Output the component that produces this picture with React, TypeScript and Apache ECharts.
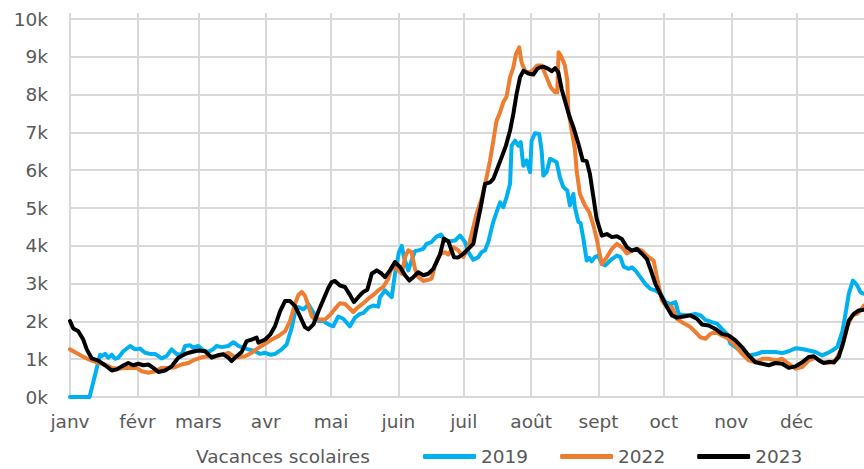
import React, { useEffect, useRef } from "react";
import * as echarts from "echarts";

const monthStarts = [0, 31, 59, 90, 120, 151, 181, 212, 243, 273, 304, 334];
const monthLabels = ["janv", "févr", "mars", "avr", "mai", "juin", "juil", "août", "sept", "oct", "nov", "déc"];

const seriesNames = ["2019", "2022", "2023"];
const seriesColors = ["#00B0F0", "#ED7D31", "#000000"];

// [day of year, value]
const s2019: number[][] = [
  [0, 0], [9, 0], [13.8, 1120], [14.6, 1080], [16.1, 1140], [17.6, 1040], [19.2, 1120], [20.7, 1010], [22.2, 1040],
  [24.5, 1210], [27.6, 1350], [29.9, 1260], [32.2, 1280], [34.5, 1170], [36.8, 1140], [39.1, 1140], [42.1, 1020],
  [44.4, 1080], [46.7, 1260], [49, 1140], [51.3, 1120], [52.9, 1350], [55.2, 1370], [56.7, 1300], [59, 1350],
  [61.3, 1230], [63.6, 1190], [65.9, 1270], [67.4, 1350], [69.7, 1320], [72.8, 1350], [75.1, 1450], [77.4, 1350],
  [79.7, 1300], [82, 1260], [85.1, 1210], [87.4, 1140], [89.7, 1170], [92, 1120], [94.3, 1140], [97.3, 1260],
  [99.6, 1390], [101.9, 1830], [103.4, 2230], [105, 2380], [107.3, 2320], [109.6, 2450], [111.9, 2230],
  [114.2, 2010], [116.5, 2010], [118.8, 1920], [121, 1870], [123.3, 2130], [125.6, 2070], [128.7, 1870],
  [131, 2100], [133.3, 2200], [134.8, 2220], [137.1, 2360], [139.4, 2420], [141.7, 2390], [142.5, 2640],
  [144.8, 2820], [146.3, 2730], [147.9, 2640], [149.4, 3260], [151.2, 3830], [152.5, 4000], [153.5, 3700],
  [155.5, 3350], [157, 3610], [158.6, 3860], [160.1, 3880], [162.4, 3920], [163.9, 4050], [166.2, 4100],
  [168.2, 4230], [170.5, 4300], [172.4, 4140], [174.7, 4120], [177, 4140], [179.3, 4270], [181.6, 4100],
  [183.1, 3830], [185.4, 3630], [187.7, 3700], [189.2, 3830], [190.8, 3880], [192.3, 4100], [194.3, 4580],
  [196.1, 4890], [197.7, 5150], [199.2, 5020], [200.7, 5290], [202.3, 5640], [203, 6650], [204.6, 6780],
  [206.1, 6650], [207.2, 6740], [208.4, 6120], [209.9, 6260], [211.5, 5950], [212.2, 6780], [213.8, 6980],
  [215.7, 6960], [216.8, 6520], [217.6, 5860], [219.1, 5950], [220.7, 6300], [222.2, 6260], [223.7, 6210],
  [225.2, 5810], [226.8, 5550], [228.6, 5460], [229.8, 5070], [231.4, 5370], [232.1, 5020], [233.7, 4630],
  [234.7, 4600], [236, 4190], [237.5, 3610], [238.7, 3680], [239.8, 3590], [241.3, 3700], [242.9, 3740],
  [244.5, 3520], [246.1, 3480], [247.6, 3570], [249.1, 3650], [251.4, 3740], [253, 3700], [254.5, 3450],
  [256.8, 3390], [258.3, 3430], [259.9, 3350], [262.2, 3170], [264.5, 2990], [266.8, 2860], [269.1, 2820],
  [271.4, 2730], [273.7, 2510], [276, 2460], [278.3, 2510], [279.8, 2200], [282.1, 2160], [284.4, 2160],
  [287.5, 2200], [289.8, 2160], [292.1, 2040], [295.1, 1980], [297.4, 1940], [299.7, 1800], [302, 1670],
  [303.6, 1410], [305.9, 1320], [308.9, 1190], [312, 1100], [315.1, 1130], [318.2, 1190], [321.2, 1190],
  [324.3, 1190], [327.4, 1160], [330.4, 1210], [333.5, 1290], [336.6, 1270], [339.6, 1230], [342.7, 1190],
  [345.8, 1100], [348.1, 1160], [350.4, 1230], [352.7, 1320], [355, 1720], [356.5, 2200], [358, 2730],
  [359.9, 3080], [361.9, 2950], [363.4, 2770], [365, 2730],
];

const s2022: number[][] = [
  [0, 1260], [3.8, 1140], [6.9, 1040], [10, 960], [13, 900], [16.1, 860], [19.2, 770], [22.2, 750], [25.3, 770],
  [28.4, 770], [30.7, 770], [33, 680], [36, 640], [39.1, 680], [42.1, 770], [45.2, 770], [48.3, 790], [51.3, 860],
  [54.4, 900], [57.5, 990], [60.5, 1050], [63.6, 1080], [66.7, 1080], [69.7, 1110], [72.8, 1170], [75.1, 1080],
  [77.4, 1050], [80.5, 1080], [83.5, 1170], [86.6, 1300], [89.7, 1410], [92.7, 1520], [95.8, 1610], [98.9, 1740],
  [101.1, 2000], [103.4, 2450], [105, 2700], [106.5, 2780], [108, 2680], [109.6, 2410], [111.1, 2140],
  [112.6, 2050], [114.9, 2050], [117.2, 2050], [119.5, 2170], [121.8, 2330], [124.1, 2480], [126.4, 2460],
  [127.9, 2380], [130.2, 2250], [132.5, 2380], [134.8, 2480], [137.1, 2600], [139.4, 2700], [141.7, 2820],
  [144, 2910], [146.3, 3130], [147.9, 3440], [150.2, 3390], [152.5, 3260], [154, 3700], [155.5, 3880],
  [157, 3830], [158.6, 3390], [160.1, 3170], [162.4, 3070], [164.7, 3100], [166.2, 3130], [167.8, 3480],
  [170.1, 3790], [172.4, 3830], [173.9, 3770], [176.2, 3960], [178.5, 3880], [180.8, 3700], [183.1, 3960],
  [185.4, 4490], [186.9, 4850], [189.2, 5240], [191.5, 5810], [193.1, 6260], [194.6, 6780], [196.1, 7310],
  [197.7, 7530], [199.2, 7800], [200.7, 7950], [202.3, 8460], [203.8, 8720], [205, 9070], [206.5, 9250],
  [207.6, 8850], [209.2, 8630], [211.5, 8590], [213.3, 8680], [214.8, 8770], [216.8, 8770], [219.1, 8460],
  [221, 8190], [223, 8060], [224, 8060], [224.6, 9120], [226, 8990], [227.5, 8770], [228.6, 8370],
  [229.1, 7580], [230.6, 7050], [232.1, 6560], [232.9, 5990], [234.4, 5370], [236.7, 5070], [238.7, 4890],
  [240.6, 4540], [242.1, 4190], [243.3, 3830], [244.5, 3520], [246.8, 3700], [249.1, 3920], [251.4, 4050],
  [253.7, 3960], [256, 3800], [258.3, 3870], [260.6, 3920], [262.9, 3870], [266, 3700], [268.3, 3610],
  [269.8, 3170], [272.1, 2550], [274.4, 2380], [276.7, 2380], [279, 2070], [282.1, 1950], [285.2, 1850],
  [287.5, 1720], [289.8, 1580], [292.1, 1540], [294.4, 1670], [296.7, 1720], [299.7, 1630], [302.8, 1540],
  [305.9, 1360], [308.9, 1140], [312, 970], [315.1, 920], [318.2, 1010], [321.2, 1010], [324.3, 970],
  [327.4, 1010], [330.4, 880], [333.5, 750], [336.6, 790], [339.6, 970], [342.7, 1040], [345.8, 920],
  [348.8, 900], [351.9, 970], [355, 1320], [357.3, 1850], [359.6, 2160], [361.9, 2200], [363.4, 2290], [365, 2420],
];

const s2023: number[][] = [
  [0, 2010], [1.5, 1810], [3.8, 1740], [6.1, 1520], [7.7, 1260], [10, 1020], [13, 960], [16.1, 840], [19.2, 700],
  [21.5, 730], [23.8, 810], [26.8, 900], [29.1, 840], [31.4, 880], [33.7, 840], [36, 860], [38.3, 770],
  [40.6, 660], [43.7, 700], [46.7, 810], [49.8, 1040], [52.9, 1140], [55.9, 1190], [59, 1230], [62.1, 1210],
  [65.1, 1040], [68.2, 1110], [70.5, 1130], [72.8, 1040], [74.3, 950], [76.6, 1080], [78.9, 1190], [81.2, 1480],
  [83.5, 1520], [85.8, 1570], [86.6, 1440], [89.7, 1520], [92, 1650], [94.3, 1880], [96.6, 2270], [98.9, 2540],
  [101.1, 2540], [103.4, 2410], [105.7, 2140], [108, 1850], [109.6, 1790], [111.9, 1920], [114.2, 2270],
  [116.5, 2580], [118.8, 2890], [120.3, 3040], [121.8, 3070], [124.1, 2950], [126.4, 2910], [128.4, 2730],
  [130.5, 2510], [132.5, 2640], [134.8, 2780], [136.7, 2840], [138.7, 3260], [141, 3350], [143.3, 3260],
  [144.8, 3170], [147.1, 3350], [149.4, 3570], [151.7, 3440], [154, 3220], [156, 3080], [157.8, 3170],
  [160.1, 3300], [162.4, 3220], [164.7, 3260], [167, 3390], [168.8, 3610], [170.1, 3770], [171.9, 4190],
  [173.9, 4120], [175.4, 3880], [176.5, 3700], [178.5, 3690], [180.8, 3790], [183.1, 3920], [185.4, 4050],
  [186.9, 4490], [188.8, 5020], [190.8, 5640], [193.1, 5680], [194.6, 5770], [196.1, 5990], [198.4, 6340],
  [200.4, 6650], [202.3, 7050], [203.8, 7490], [205.3, 8020], [206.9, 8460], [208.4, 8630], [210.7, 8560],
  [213, 8530], [214.8, 8680], [216, 8720], [217.6, 8740], [219.9, 8680], [221.4, 8620], [223, 8700],
  [224.5, 8590], [226, 8150], [227.5, 7840], [229.5, 7440], [231.4, 7140], [233.7, 6700], [235.7, 6260],
  [237.5, 6240], [239, 5900], [240.6, 5290], [242.1, 4710], [243.3, 4490], [244.5, 4270], [246.8, 4310],
  [249.1, 4230], [251.4, 4250], [253.7, 4180], [256, 3960], [258.3, 3870], [260.6, 3920], [262.9, 3790],
  [265.2, 3650], [266.8, 3390], [269.1, 2990], [272.1, 2640], [274.4, 2380], [276.7, 2160], [279, 2100],
  [282.1, 2130], [285.2, 2160], [288.2, 2070], [290.5, 1920], [293.6, 1890], [296.7, 1800], [299.7, 1670],
  [302.8, 1630], [305.9, 1500], [308.9, 1320], [312, 1100], [315.1, 920], [318.2, 880], [321.2, 840],
  [324.3, 900], [327.4, 880], [330.4, 770], [333.5, 810], [336.6, 920], [339.6, 1060], [341.9, 1080],
  [344.2, 970], [346.5, 900], [348.8, 930], [351.1, 910], [353.4, 1060], [355.7, 1500], [358, 2020],
  [360.3, 2200], [362.6, 2290], [365, 2310],
];

const allSeries = [s2019, s2022, s2023];

const FONT = "DejaVu Sans";
const TEXT = "#595959";
const GRID = "#D9D9D9";
const FS = 18.5;

export default function App() {
  const ref = useRef<HTMLDivElement>(null);
  useEffect(() => {
    if (!ref.current) return;
    const chart = echarts.init(ref.current, undefined, { renderer: "svg" });
    chart.setOption({
      animation: false,
      textStyle: { fontFamily: FONT },
      grid: [
        { left: 70, right: 0, top: 19, bottom: 72, containLabel: false },
        { left: 70, right: 0, top: 13, bottom: 72, containLabel: false },
      ],
      xAxis: [
        {
          type: "value",
          min: 0,
          max: 365,
          axisLine: { show: false },
          axisTick: { show: false, customValues: monthStarts },
          splitLine: { show: false },
          axisLabel: {
            customValues: monthStarts,
            color: TEXT,
            fontSize: FS,
            fontFamily: FONT,
            margin: 15,
            formatter: (v: number) => {
              const i = monthStarts.indexOf(Math.round(v));
              return i >= 0 ? monthLabels[i] : "";
            },
          },
        },
        {
          gridIndex: 1,
          type: "value",
          min: 0,
          max: 365,
          axisLine: { show: false },
          axisTick: { show: false, customValues: monthStarts },
          axisLabel: { show: false },
          splitLine: { show: true, lineStyle: { color: GRID, width: 2 } },
        },
      ],
      yAxis: [
        {
          type: "value",
          min: 0,
          max: 10000,
          interval: 1000,
          axisLine: { show: false },
          axisTick: { show: false },
          splitLine: { show: true, lineStyle: { color: GRID, width: 2 } },
          axisLabel: {
            color: TEXT,
            fontSize: FS,
            fontFamily: FONT,
            margin: 22,
            formatter: (v: number) => `${v / 1000}k`,
          },
        },
        {
          gridIndex: 1,
          type: "value",
          min: 0,
          max: 1,
          show: false,
        },
      ],
      legend: [
        {
          data: [{ name: "Vacances scolaires", icon: "none" }],
          left: 191,
          top: 447,
          padding: 0,
          itemWidth: 0,
          itemHeight: 5,
          textStyle: { color: TEXT, fontSize: FS, fontFamily: FONT },
        },
        {
          data: seriesNames,
          left: 423,
          top: 447,
          padding: 0,
          itemWidth: 53,
          itemHeight: 5,
          itemGap: 32,
          icon: "roundRect",
          textStyle: { color: TEXT, fontSize: FS, fontFamily: FONT },
        },
      ],
      series: [
        {
          name: "Vacances scolaires",
          type: "line",
          data: [],
          itemStyle: { color: "transparent" },
          lineStyle: { width: 0 },
        },
        ...allSeries.map((d, i) => ({
          name: seriesNames[i],
          type: "line",
          data: d,
          showSymbol: false,
          symbol: "none",
          color: seriesColors[i],
          lineStyle: { color: seriesColors[i], width: 4, join: "round", cap: "round" },
          itemStyle: { color: seriesColors[i] },
          z: 2 + i,
        })),
      ],
    });
    return () => chart.dispose();
  }, []);
  return <div ref={ref} style={{ width: 864, height: 469, position: "absolute", left: 0, top: 0 }} />;
}
